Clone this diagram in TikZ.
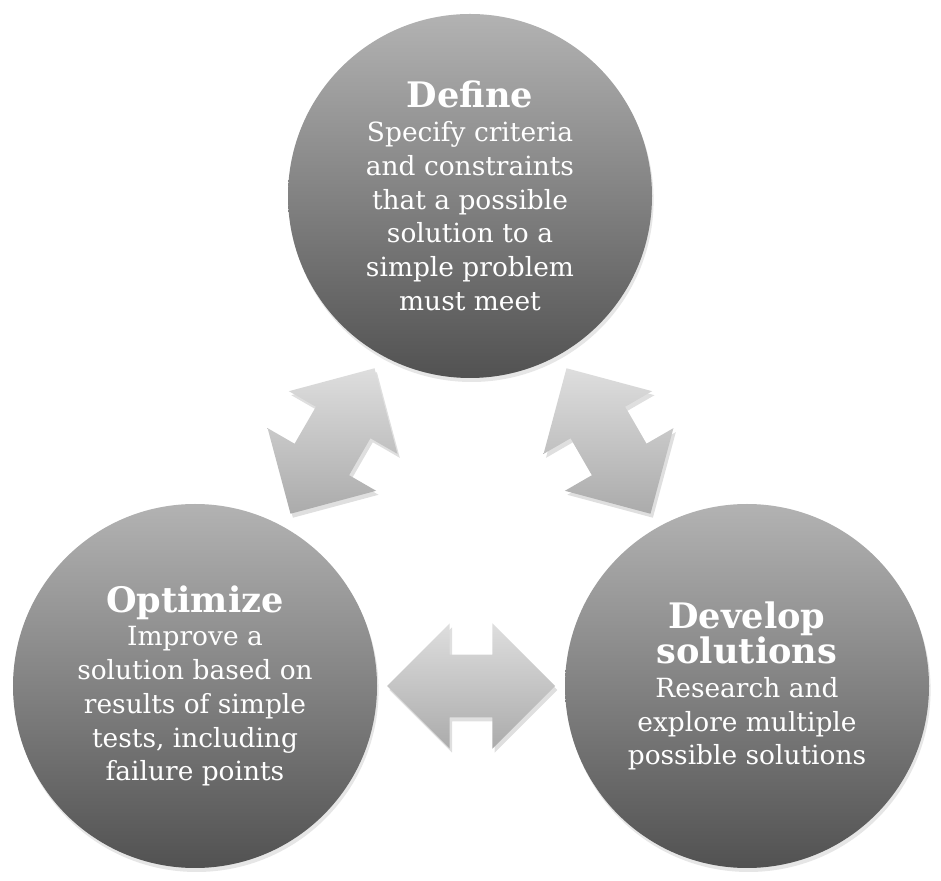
\documentclass[tikz,border=0pt]{standalone}
\usepackage{fontspec}
\setmainfont{DejaVu Serif}
\usepackage{xcolor}
\usepackage{tikz}
\usetikzlibrary{shapes.arrows,calc,shadows}

\newcommand{\steptitle}[1]{{\fontsize{25}{28}\selectfont\bfseries #1}}

\begin{document}
\begin{tikzpicture}[
  circ/.style={circle, minimum size=9.1cm, inner sep=0pt,
               top color=black!30, bottom color=black!68,
               drop shadow={opacity=0.2, shadow xshift=0.04cm, shadow yshift=-0.1cm},
               text=white, align=center, font=\fontsize{18.8}{24}\selectfont},
  dbl/.style={double arrow, minimum height=4.2cm, inner sep=0pt, inner ysep=0.78cm,
              double arrow head extend=0.78cm,
              top color=black!13, bottom color=black!33,
              drop shadow={opacity=0.25, shadow xshift=0.06cm, shadow yshift=-0.1cm}}
]
  \useasboundingbox (0,0) rectangle (23.525,22.025);
  \node[circ] (define) at (11.75,17.125) {\steptitle{Define}\\ Specify criteria\\ and constraints\\ that a possible\\ solution to a\\ simple problem\\ must meet};
  \node[circ] (optim)  at (4.875,4.875)  {\steptitle{Optimize}\\ Improve a\\ solution based on\\ results of simple\\ tests, including\\ failure points};
  \node[circ] (devel)  at (18.675,4.875) {\steptitle{Develop}\\ \steptitle{solutions}\\ Research and\\ explore multiple\\ possible solutions};
  \node[dbl, rotate=60]  (arrL) at ($(optim)!0.5!(define)$) {};
  \node[dbl, rotate=-60] (arrR) at ($(devel)!0.5!(define)$) {};
  \node[dbl]             (arrB) at ($(optim)!0.5!(devel)$)  {};
\end{tikzpicture}
\end{document}
